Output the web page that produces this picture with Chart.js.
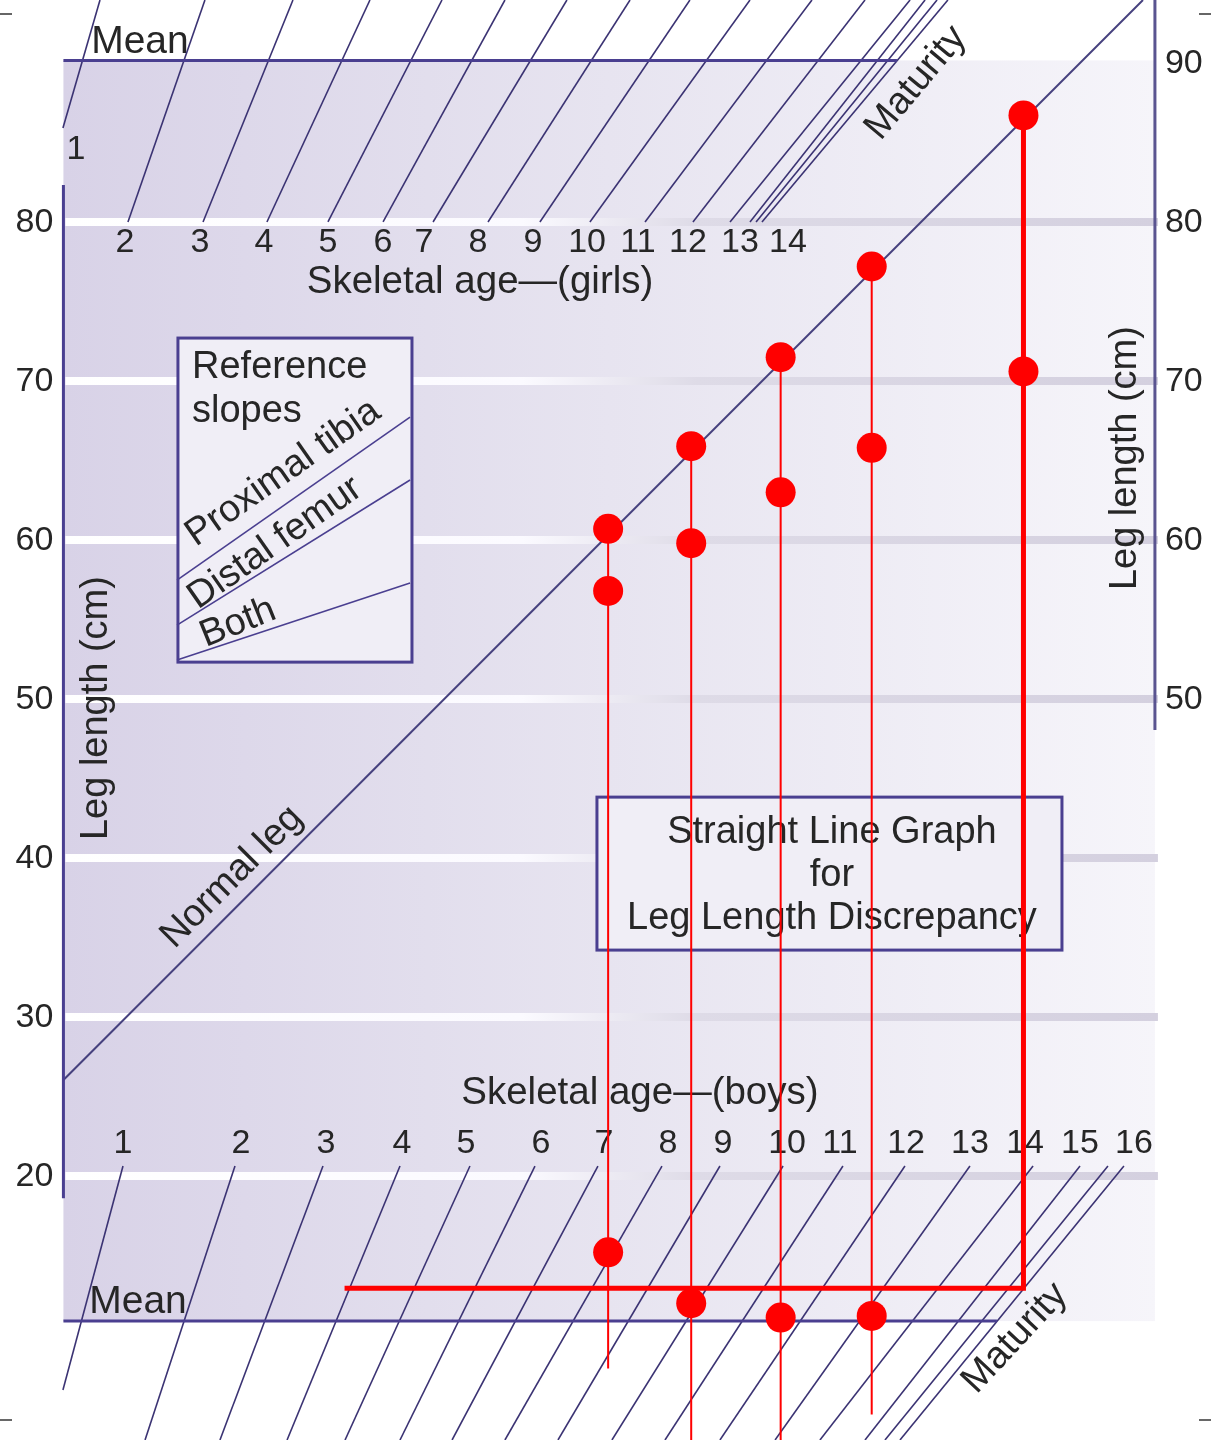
<!DOCTYPE html>
<html>
<head>
<meta charset="utf-8">
<script src="https://cdn.jsdelivr.net/npm/chart.js@4.4.0/dist/chart.umd.min.js"></script>
<style>
  html, body { margin: 0; padding: 0; background: #fff; }
  canvas { display: block; }
</style>
</head>
<body>
<canvas id="moseley" width="1211" height="1440"></canvas>
<script>
// Moseley straight line graph. x = length of the normal leg (cm), y = leg length (cm)

const legTicksLeft = [80, 70, 60, 50, 40, 30, 20];
const legTicksRight = [90, 80, 70, 60, 50];

// girls skeletal age lines (bottom point -> top edge)
const girlsAgeLabels = ['1', '2', '3', '4', '5', '6', '7', '8', '9', '10', '11', '12', '13', '14'];
const girlsLabelX = [27.39, 30.46, 35.15, 39.16, 43.16, 46.61, 49.17, 52.55, 56.00, 59.38, 62.57, 65.70, 68.95, 71.96];
const girlsLabelY = [84.53, 78.71, 78.71, 78.71, 78.71, 78.71, 78.71, 78.71, 78.71, 78.71, 78.71, 78.71, 78.71, 78.71];
const girlsLineStartX = [26.57, 30.64, 35.34, 39.34, 43.16, 46.61, 49.74, 53.18, 56.43, 59.56, 63.01, 66.01, 68.33, 69.58, 69.96, 70.33];
const girlsLineStartY = [85.91, 80, 80, 80, 80, 80, 80, 80, 80, 80, 80, 80, 80, 80, 80, 80];
const girlsLineEndX = [28.89, 35.46, 40.97, 45.79, 50.30, 54.24, 58.12, 62.07, 65.82, 69.58, 73.46, 76.78, 79.60, 80.54, 81.29, 81.97];

// boys skeletal age lines (top point -> bottom edge)
const boysAgeLabels = ['1', '2', '3', '4', '5', '6', '7', '8', '9', '10', '11', '12', '13', '14', '15', '16'];
const boysLabelX = [30.33, 37.72, 43.04, 47.80, 51.80, 56.50, 60.44, 64.45, 67.89, 71.90, 75.21, 79.35, 83.35, 86.80, 90.24, 93.62];
const boysLineTopX = [30.33, 37.34, 42.85, 47.67, 52.05, 56.12, 60.06, 64.07, 67.70, 71.65, 75.40, 79.28, 83.35, 87.30, 90.24, 91.99, 92.99];
const boysLineBottomX = [26.57, 31.71, 36.40, 40.60, 44.23, 47.67, 50.93, 54.24, 57.56, 60.94, 64.26, 67.70, 71.15, 73.96, 76.78, 78.03, 78.97];
const boysLineBottomY = [6.54, 3.4, 3.4, 3.4, 3.4, 3.4, 3.4, 3.4, 3.4, 3.4, 3.4, 3.4, 3.4, 3.4, 3.4, 3.4, 3.4];
const boysLineTopY = 20.63;
const boysLabelY = 22.04;

// frame of the nomogram
const meanTop = { y: 90.16, x0: 26.6, x1: 78.78 };
const meanBottom = { y: 10.88, x0: 26.6, x1: 85.04 };
const leftAxis = { x: 26.6, y0: 82.32, y1: 18.61 };
const rightAxis = { x: 94.93, y0: 93.96, y1: 48.05 };
const normalLeg = [{ x: 26.6, y: 26.04 }, { x: 94.18, y: 93.96 }];

// reference slopes (inside the small box)
const slopeProximalTibia = [{ x: 33.71, y: 57.48 }, { x: 48.30, y: 67.73 }];
const slopeDistalFemur = [{ x: 33.71, y: 54.65 }, { x: 48.30, y: 63.77 }];
const slopeBoth = [{ x: 33.71, y: 52.45 }, { x: 48.30, y: 57.29 }];

// patient visits
const visitNormalLeg = [60.7, 65.9, 71.5, 77.2];
const visitShortLeg = [56.8, 59.8, 63.0, 65.8];
const visitAgePoint = [15.2, 12.0, 11.1, 11.2];
const visitLineBottom = [7.9, 3.4, 3.4, 5.0];
const maturityNormalLeg = 86.7;
const maturityShortLeg = 70.6;
const maturityRefY = 12.95;
const maturityRefLeftX = 44.2;

const INK = '#3b3373';
const FRAME = '#4a3f90';
const RED = '#ff0000';
const FONT = '"Liberation Sans", Arial, Helvetica, sans-serif';

function seg(points, color, width, order) {
    return {
        data: points,
        showLine: true,
        borderColor: color,
        borderWidth: width,
        pointRadius: 0,
        pointHoverRadius: 0,
        fill: false,
        tension: 0,
        borderJoinStyle: 'miter',
        order: order
    };
}

const datasets = [];

// age lines
girlsLineStartX.forEach((x, i) => {
    datasets.push(seg([{ x: x, y: girlsLineStartY[i] }, { x: girlsLineEndX[i], y: 93.96 }], INK, 1.6, 5));
});
boysLineTopX.forEach((x, i) => {
    datasets.push(seg([{ x: x, y: boysLineTopY }, { x: boysLineBottomX[i], y: boysLineBottomY[i] }], INK, 1.6, 5));
});

// frame
datasets.push(seg([{ x: meanTop.x0, y: meanTop.y }, { x: meanTop.x1, y: meanTop.y }], FRAME, 3, 4));
datasets.push(seg([{ x: meanBottom.x0, y: meanBottom.y }, { x: meanBottom.x1, y: meanBottom.y }], FRAME, 3, 4));
datasets.push(seg([{ x: leftAxis.x, y: leftAxis.y0 }, { x: leftAxis.x, y: leftAxis.y1 }], FRAME, 3, 4));
datasets.push(seg([{ x: rightAxis.x, y: rightAxis.y0 }, { x: rightAxis.x, y: rightAxis.y1 }], '#5a5490', 3, 4));
datasets.push(seg(normalLeg, '#46417e', 2, 4));
datasets.push(seg(slopeProximalTibia, FRAME, 1.6, 4));
datasets.push(seg(slopeDistalFemur, FRAME, 1.6, 4));
datasets.push(seg(slopeBoth, FRAME, 1.6, 4));

// red construction lines
visitNormalLeg.forEach((x, i) => {
    datasets.push(seg([{ x: x, y: x }, { x: x, y: visitLineBottom[i] }], RED, 2, 1));
});
datasets.push(seg([
    { x: maturityNormalLeg, y: maturityNormalLeg },
    { x: maturityNormalLeg, y: maturityRefY },
    { x: maturityRefLeftX, y: maturityRefY }
], RED, 5, 1));

// red dots
const dots = [];
visitNormalLeg.forEach((x, i) => {
    dots.push({ x: x, y: x });
    dots.push({ x: x, y: visitShortLeg[i] });
    dots.push({ x: x, y: visitAgePoint[i] });
});
dots.push({ x: maturityNormalLeg, y: maturityNormalLeg });
dots.push({ x: maturityNormalLeg, y: maturityShortLeg });
datasets.push({
    data: dots,
    showLine: false,
    pointRadius: 15,
    pointHoverRadius: 15,
    pointBackgroundColor: RED,
    pointBorderWidth: 0,
    order: 0
});

function text(ctx, str, x, y, size, angle, align) {
    ctx.save();
    ctx.translate(x, y);
    ctx.rotate((angle || 0) * Math.PI / 180);
    ctx.font = size + 'px ' + FONT;
    ctx.fillStyle = '#262626';
    ctx.textAlign = align || 'center';
    ctx.textBaseline = 'middle';
    ctx.fillText(str, 0, 0);
    ctx.restore();
}

const nomogram = {
    id: 'nomogram',
    beforeDatasetsDraw(chart) {
        const ctx = chart.ctx;
        const xs = chart.scales.x, ys = chart.scales.y;
        const X = v => xs.getPixelForValue(v);
        const Y = v => ys.getPixelForValue(v);
        const xl = X(leftAxis.x), xr = X(rightAxis.x);

        // shaded band between the two mean lines
        ctx.save();
        const bg = ctx.createLinearGradient(xl, 0, xr, 0);
        bg.addColorStop(0, '#d8d2e7');
        bg.addColorStop(0.5, '#e7e4f0');
        bg.addColorStop(1, '#f6f5fa');
        ctx.fillStyle = bg;
        ctx.fillRect(xl, Y(meanTop.y), xr - xl, Y(meanBottom.y) - Y(meanTop.y));

        // horizontal grid bands
        const gl = ctx.createLinearGradient(xl, 0, xr, 0);
        gl.addColorStop(0, '#ffffff');
        gl.addColorStop(0.42, '#fbfaff');
        gl.addColorStop(0.58, '#dedbe7');
        gl.addColorStop(1, '#d4d0df');
        ctx.strokeStyle = gl;
        ctx.lineWidth = 8;
        legTicksLeft.forEach(v => {
            ctx.beginPath();
            ctx.moveTo(xl + 2, Y(v));
            ctx.lineTo(xr + 3, Y(v));
            ctx.stroke();
        });

        // boxes
        const box = (x0, y0, x1, y1) => {
            ctx.fillStyle = '#f0eef6';
            ctx.fillRect(X(x0), Y(y0), X(x1) - X(x0), Y(y1) - Y(y0));
            ctx.strokeStyle = '#4a3f90';
            ctx.lineWidth = 3;
            ctx.strokeRect(X(x0), Y(y0), X(x1) - X(x0), Y(y1) - Y(y0));
        };
        box(33.77, 72.70, 48.42, 52.32);
        box(60.00, 43.83, 89.11, 34.21);

        // crop marks
        ctx.strokeStyle = '#000';
        ctx.lineWidth = 1.2;
        const a = chart.chartArea;
        [[a.left, a.top + 14], [a.right - 12, a.top + 14], [a.left, a.bottom - 20], [a.right - 12, a.bottom - 20]].forEach(p => {
            ctx.beginPath();
            ctx.moveTo(p[0], p[1]);
            ctx.lineTo(p[0] + 12, p[1]);
            ctx.stroke();
        });
        ctx.restore();

        // tick labels
        legTicksLeft.forEach(v => text(ctx, String(v), xl - 10, Y(v) + 1, 34, 0, 'right'));
        legTicksRight.forEach(v => text(ctx, String(v), xr + 10, Y(v) + 1, 34, 0, 'left'));
        girlsAgeLabels.forEach((s, i) => text(ctx, s, X(girlsLabelX[i]), Y(girlsLabelY[i]), 34));
        boysAgeLabels.forEach((s, i) => text(ctx, s, X(boysLabelX[i]), Y(boysLabelY), 34));

        // titles and notes
        text(ctx, 'Skeletal age\u2014(girls)', X(52.68), Y(76.22), 38.5);
        text(ctx, 'Skeletal age\u2014(boys)', X(62.69), Y(25.22), 38.5);
        text(ctx, 'Mean', X(31.39), Y(91.32), 39);
        text(ctx, 'Mean', X(31.27), Y(12.07), 39);
        text(ctx, 'Maturity', X(79.97), Y(88.74), 38, -50);
        text(ctx, 'Maturity', X(86.17), Y(9.81), 38, -47);
        text(ctx, 'Normal leg', X(37.15), Y(38.80), 38, -45);
        text(ctx, 'Leg length (cm)', X(28.70), Y(49.43), 38, -90);
        text(ctx, 'Leg length (cm)', X(93.06), Y(65.15), 38, -90);
        text(ctx, 'Reference', X(34.65), Y(70.82), 38, 0, 'left');
        text(ctx, 'slopes', X(34.65), Y(68.05), 38, 0, 'left');
        text(ctx, 'Proximal tibia', X(40.35), Y(64.21), 38, -35);
        text(ctx, 'Distal femur', X(39.85), Y(59.81), 38, -35);
        text(ctx, 'Both', X(37.53), Y(54.78), 38, -22);
        text(ctx, 'Straight Line Graph', X(74.71), Y(41.63), 38);
        text(ctx, 'for', X(74.71), Y(38.93), 38);
        text(ctx, 'Leg Length Discrepancy', X(74.71), Y(36.22), 38);
    }
};

new Chart(document.getElementById('moseley'), {
    type: 'scatter',
    data: { datasets: datasets },
    options: {
        responsive: false,
        animation: false,
        devicePixelRatio: 1,
        events: [],
        layout: { padding: 0, autoPadding: false },
        plugins: { legend: { display: false }, tooltip: { enabled: false } },
        scales: {
            x: { type: 'linear', min: 22.63, max: 98.44, display: false },
            y: { type: 'linear', min: 3.40, max: 93.96, display: false }
        }
    },
    plugins: [nomogram]
});
</script>
</body>
</html>
